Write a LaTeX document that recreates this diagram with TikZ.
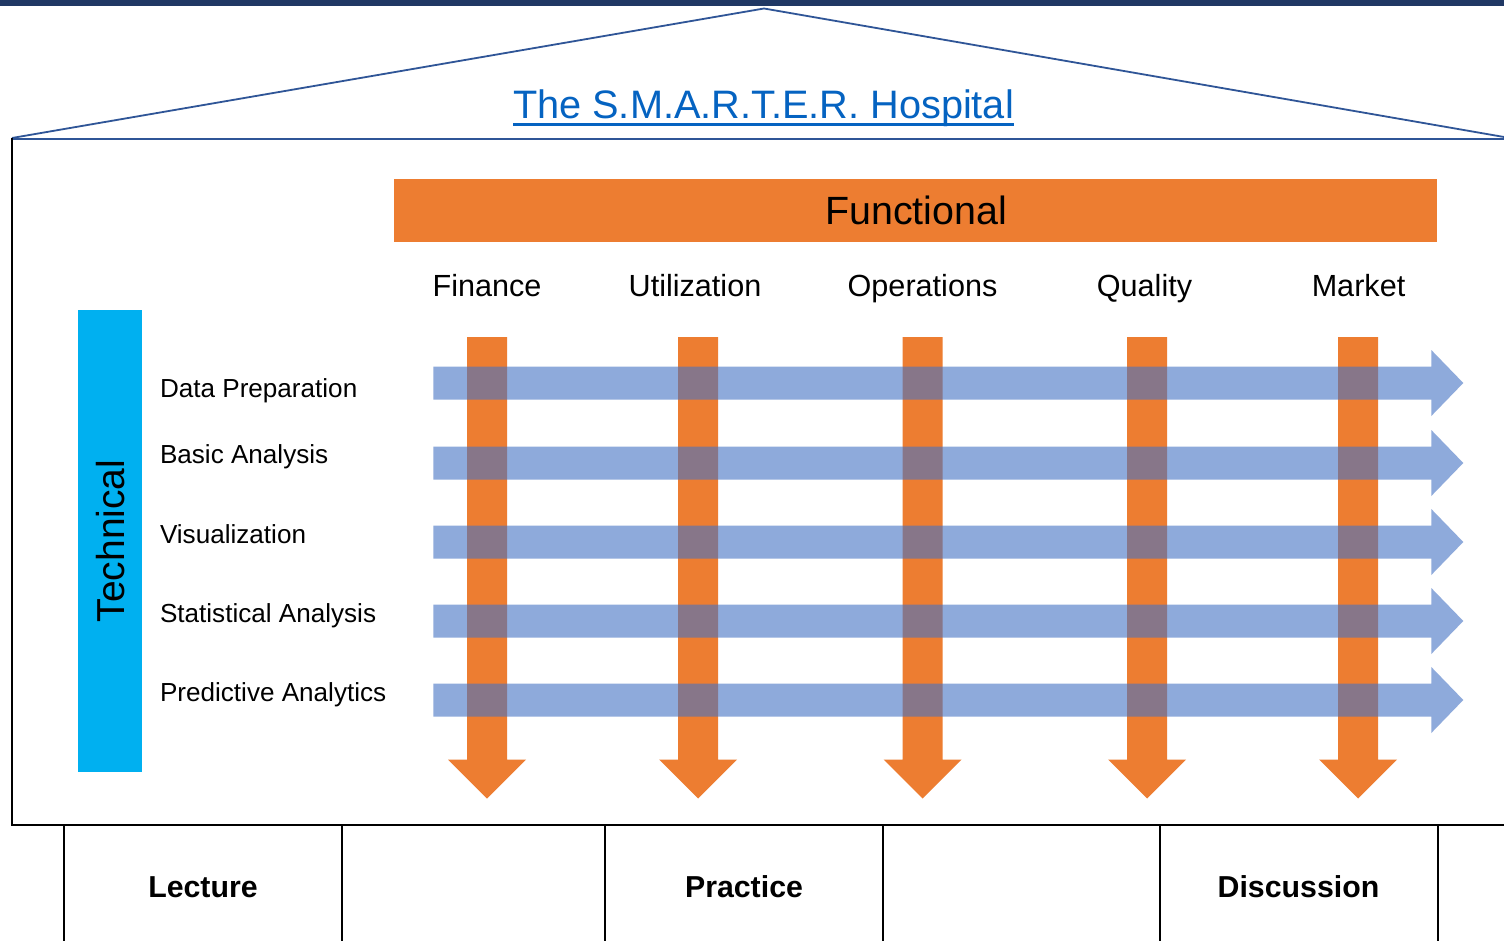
\documentclass[tikz,border=0pt]{standalone}
\usepackage{fontspec}
\setmainfont{Liberation Sans}
\definecolor{navybar}{HTML}{203864}
\definecolor{roofblue}{HTML}{2F5597}
\definecolor{linkblue}{HTML}{0563C1}
\definecolor{orangeA}{HTML}{ED7D31}
\definecolor{cyanA}{HTML}{00B0F0}
\definecolor{blueA}{HTML}{4472C4}
\tikzset{
  txt/.style={inner sep=0pt, outer sep=0pt},
  rowlabel/.style={txt, anchor=base west, font=\fontsize{26.1}{31}\selectfont},
  collabel/.style={txt, anchor=base, font=\fontsize{30.6}{37}\selectfont},
  baselabel/.style={txt, anchor=base, font=\fontsize{30.3}{36}\selectfont\bfseries},
  housebox/.style={draw=black, line width=2pt},
  harrow/.pic={
    \fill[blueA, fill opacity=0.6] (0,-16.5) -- (998,-16.5) -- (998,-33) -- (1030,0)
      -- (998,33) -- (998,16.5) -- (0,16.5) -- cycle;
  },
  varrow/.pic={
    \fill[orangeA] (-20,0) -- (20,0) -- (20,422.5) -- (39,422.5) -- (0,461.5)
      -- (-39,422.5) -- (-20,422.5) -- cycle;
  }
}
\begin{document}
\begin{tikzpicture}[x=1pt, y=-1pt]
\useasboundingbox (0,0) rectangle (1504,941);
\clip (0,0) rectangle (1504,941);
\fill[white] (0,0) rectangle (1504,941);
% top bar
\fill[navybar] (0,0) rectangle (1504,6.5);
% roof
\draw[roofblue, line width=1.8pt] (12,138) -- (764,8.5) -- (1504,137);
% house body
\draw[roofblue, line width=2pt] (12,139) -- (1520,139);
\draw[black, line width=2pt] (12,138) -- (12,825) -- (1520,825);
% title
\node[txt, anchor=base, text=linkblue, font=\fontsize{39.7}{48}\selectfont] (title) at (763.5,118.5) {The S.M.A.R.T.E.R. Hospital};
\draw[linkblue, line width=2.4pt] ([yshift=-6pt]title.base west) -- ([yshift=-6pt]title.base east);
% functional bar
\fill[orangeA] (394,179) rectangle (1437,242.5);
\node[txt, anchor=base, font=\fontsize{39.4}{47}\selectfont] (functional) at (916,225) {Functional};
% technical bar
\fill[cyanA] (78,310) rectangle (142,772);
\node[txt, rotate=90, font=\fontsize{39}{47}\selectfont] (technical) at (111,541) {Technical};
% column labels
\node[collabel] (finance) at (487,296) {Finance};
\node[collabel] (util) at (695,296) {Utilization};
\node[collabel] (oper) at (922.5,296) {Operations};
\node[collabel] (qual) at (1144.5,296) {Quality};
\node[collabel] (market) at (1358.5,296) {Market};
% row labels
\node[rowlabel] (dataprep) at (160,397) {Data Preparation};
\node[rowlabel] (basic) at (160,463) {Basic Analysis};
\node[rowlabel] (visual) at (160,543) {Visualization};
\node[rowlabel] (stat) at (160,622) {Statistical Analysis};
\node[rowlabel] (pred) at (160,701) {Predictive Analytics};
% orange down arrows
\foreach \cx in {487,698,922.5,1147,1358}
  \pic at (\cx,337) {varrow};
% blue right arrows
\foreach \cy in {383,463,542,621,700}
  \pic at (433.3,\cy) {harrow};
% foundation boxes
\draw[housebox] (64,825) rectangle (342,980);
\draw[housebox] (605,825) rectangle (883,980);
\draw[housebox] (1160,825) rectangle (1437.5,980);
\node[baselabel] (lecture) at (203,897) {Lecture};
\node[baselabel] (practice) at (744,897) {Practice};
\node[baselabel] (discussion) at (1298.5,897) {Discussion};
\end{tikzpicture}
\end{document}
